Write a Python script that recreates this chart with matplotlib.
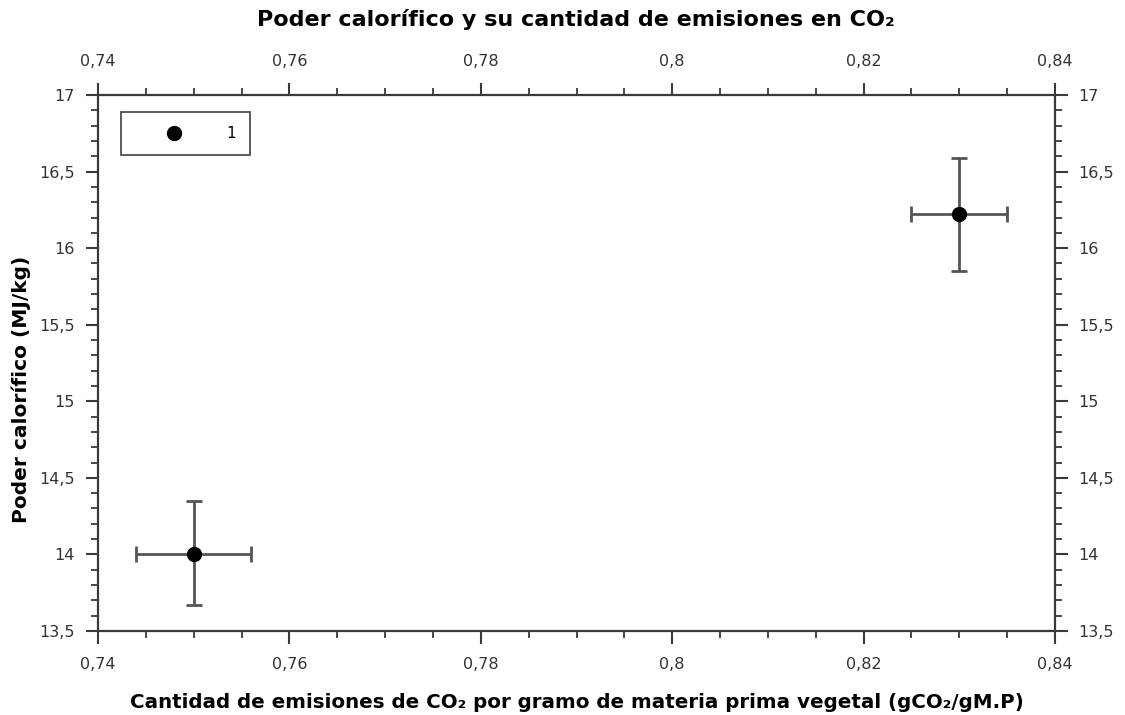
import matplotlib
matplotlib.use("Agg")
import matplotlib.pyplot as plt  # noqa: E402
from matplotlib.ticker import FuncFormatter, MultipleLocator  # noqa: E402

# emisiones de CO2 (gCO2/gM.P) vs poder calorifico (MJ/kg), con barras de error
x = [0.750, 0.830]
y = [14.00, 16.22]
x_err = [0.006, 0.005]
y_err_low = [0.33, 0.37]
y_err_high = [0.35, 0.37]
series_label = "1"

AXIS_COLOR = "#3a3a3a"
TICK_COLOR = "#333333"
ERR_COLOR = "#555555"


def comma(v, _pos):
    return f"{v:g}".replace(".", ",")


fig = plt.figure(figsize=(11.25, 7.15), dpi=100)
ax = fig.add_axes([0.0871, 0.1175, 0.8507, 0.7496])

ax.errorbar(x, y, xerr=x_err, yerr=[y_err_low, y_err_high], fmt="none",
            ecolor=ERR_COLOR, elinewidth=2.0, capsize=6, capthick=2.0)
ax.plot(x, y, "o", color="black", ms=10, label=series_label, zorder=3)

ax.set_xlim(0.74, 0.84)
ax.set_ylim(13.5, 17)
ax.xaxis.set_major_locator(MultipleLocator(0.02))
ax.xaxis.set_minor_locator(MultipleLocator(0.005))
ax.yaxis.set_major_locator(MultipleLocator(0.5))
ax.yaxis.set_minor_locator(MultipleLocator(0.1))
ax.xaxis.set_major_formatter(FuncFormatter(comma))
ax.yaxis.set_major_formatter(FuncFormatter(comma))

ax.tick_params(which="both", direction="out", top=True, right=True,
               labeltop=True, labelright=True, color=AXIS_COLOR,
               labelcolor=TICK_COLOR, labelsize=11.5)
ax.tick_params(which="major", length=9, width=1.5, pad=8)
ax.tick_params(axis="x", which="major", pad=10)
ax.tick_params(which="minor", length=5, width=1.3)
for sp in ax.spines.values():
    sp.set_color(AXIS_COLOR)
    sp.set_linewidth(1.6)

ax.set_xlabel("Cantidad de emisiones de CO₂ por gramo de materia prima vegetal (gCO₂/gM.P)",
              fontsize=14.3, fontweight="bold")
ax.xaxis.set_label_coords(0.5, -0.115)
ax.set_ylabel("Poder calorífico (MJ/kg)", fontsize=14.5, fontweight="bold")
ax.yaxis.set_label_coords(-0.07, 0.45)
fig.suptitle("Poder calorífico y su cantidad de emisiones en CO₂", x=0.512,
             y=0.988, fontsize=16, fontweight="bold")

leg = ax.legend(loc="upper left", bbox_to_anchor=(0.024, 0.968), frameon=True,
                fancybox=False, edgecolor="#222222", fontsize=11,
                handletextpad=0.8, borderpad=0.9, borderaxespad=0,
                handlelength=5.2, numpoints=1)
leg.get_frame().set_linewidth(1.3)

fig.savefig("out.png", dpi=100)
